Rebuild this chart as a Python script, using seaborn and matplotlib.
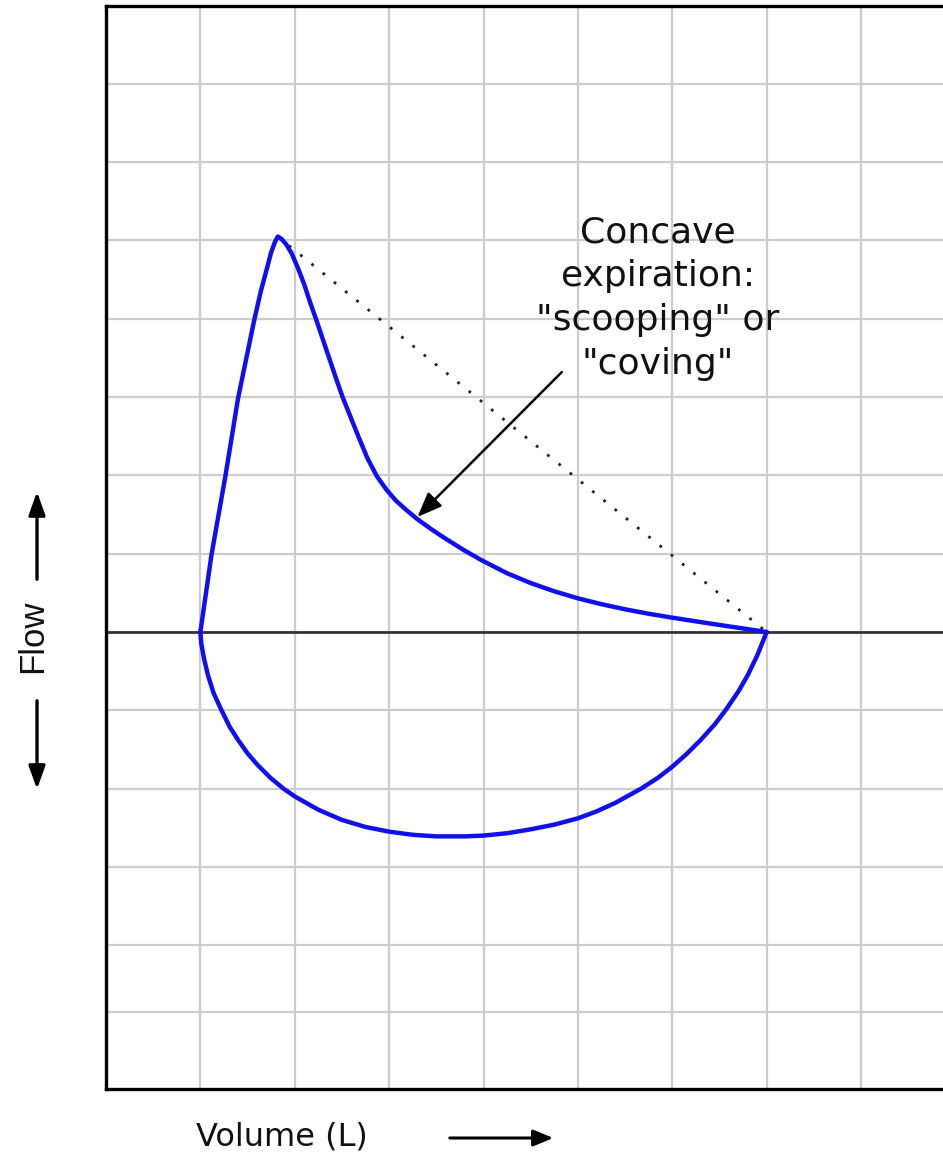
import matplotlib
matplotlib.use('Agg')
import matplotlib.pyplot as plt
import pandas as pd
import seaborn as sns

# Flow-volume loop (concave expiration)
exp_volume = [0.0, 0.117, 0.265, 0.40, 0.57, 0.64, 0.70, 0.75, 0.79, 0.82,
              0.86, 0.91, 0.965, 1.03, 1.1, 1.16, 1.23, 1.30, 1.37, 1.44, 1.51,
              1.60, 1.68, 1.77, 1.87, 1.97, 2.07, 2.18, 2.30, 2.45, 2.6, 2.8,
              2.99, 3.25, 3.5, 3.75, 4.0, 4.25, 4.5, 4.75, 4.99, 5.25, 5.5,
              5.75, 6.0]
exp_flow = [0.0, 0.98, 1.99, 2.99, 3.98, 4.35, 4.62, 4.85, 4.98, 5.05,
            5.02, 4.95, 4.84, 4.66, 4.44, 4.22, 3.98, 3.73, 3.48, 3.23, 2.99,
            2.72, 2.48, 2.22, 1.99, 1.82, 1.68, 1.56, 1.44, 1.31, 1.19, 1.04,
            0.91, 0.75, 0.625, 0.52, 0.43, 0.355, 0.29, 0.233, 0.185, 0.136,
            0.09, 0.045, 0.0]

insp_volume = [0.0, 0.01, 0.04, 0.08, 0.14, 0.22, 0.31, 0.4, 0.5, 0.6, 0.74,
               0.88, 1.0, 1.25, 1.5, 1.75, 2.0, 2.25, 2.5, 2.8, 3.0, 3.25, 3.5,
               3.75, 4.0, 4.2, 4.4, 4.67, 4.85, 5.0, 5.15, 5.3, 5.45, 5.57, 5.7,
               5.8, 5.9, 6.0]
insp_flow = [0.0, -0.15, -0.35, -0.55, -0.78, -0.99, -1.21, -1.38, -1.55, -1.69,
             -1.86, -2.0, -2.1, -2.27, -2.40, -2.49, -2.55, -2.59, -2.61, -2.61,
             -2.6, -2.57, -2.52, -2.46, -2.38, -2.29, -2.18, -2.0, -1.86, -1.72,
             -1.56, -1.38, -1.18, -0.99, -0.76, -0.55, -0.3, 0.0]

# straight reference line from peak flow to residual volume
ref_volume = [0.82, 6.0]
ref_flow = [5.05, 0.0]

x_grid = [0, 1, 2, 3, 4, 5, 6, 7, 8]
y_grid = [-4.85, -4, -3, -2, -1, 0, 1, 2, 3, 4, 5, 6, 7]

annot_text = 'Concave\nexpiration:\n"scooping" or\n"coving"'

W, H = 943, 1157


def fx(px):
    return px / W


def fy(py):
    return (H - py) / H


sns.set_style('white')
fig = plt.figure(figsize=(9.43, 11.57), dpi=100)
ax = fig.add_axes([fx(106), fy(1089), fx(943) - fx(106), fy(6) - fy(1089)])

exp_df = pd.DataFrame({'volume': exp_volume, 'flow': exp_flow})
insp_df = pd.DataFrame({'volume': insp_volume, 'flow': insp_flow})

ax.set_xticks(x_grid)
ax.set_yticks(y_grid)
ax.grid(True, color='#cccccc', lw=1.6)
ax.tick_params(length=0, labelbottom=False, labelleft=False)
ax.axhline(0, color='#333333', lw=2.0, zorder=2)

sns.lineplot(data=exp_df, x='volume', y='flow', sort=False, color='#1010ee',
             lw=3.2, ax=ax, zorder=4)
sns.lineplot(data=insp_df, x='volume', y='flow', sort=False, color='#1010ee',
             lw=3.2, ax=ax, zorder=4)
ax.plot(ref_volume, ref_flow, color='#222222', lw=2.0, ls=(0, (1, 4.2)), zorder=3)

ax.set_xlim(-1, (943 - 201) / 94.3)
ax.set_ylim((632 - 1089) / 78.3, (632 - 6) / 78.3)
ax.set_xlabel('')
ax.set_ylabel('')

for side in ['left', 'top', 'bottom']:
    ax.spines[side].set_color('black')
    ax.spines[side].set_linewidth(2.4)
ax.spines['right'].set_visible(False)

ax.text(4.85, 4.26, annot_text, ha='center', va='center', fontsize=26,
        linespacing=1.37, color='#111111', family='DejaVu Sans', zorder=5)
ax.annotate('', xy=(2.30, 1.47), xytext=(3.83, 3.32),
            arrowprops=dict(arrowstyle='-|>,head_length=1.5,head_width=0.6',
                            color='black', lw=1.8, shrinkA=0, shrinkB=0))

# axis labels with arrows
fig.text(fx(196), fy(1137), 'Volume (L)', ha='left', va='center', fontsize=23,
         color='#111111')
fig.add_artist(matplotlib.patches.FancyArrowPatch(
    (fx(447), fy(1138)), (fx(556), fy(1138)), transform=fig.transFigure,
    arrowstyle='-|>,head_length=12,head_width=5', color='black', lw=2.2))

fig.text(fx(33), fy(636), 'Flow', ha='center', va='center', rotation=90,
         fontsize=25, color='#111111', family='Liberation Sans')
fig.add_artist(matplotlib.patches.FancyArrowPatch(
    (fx(37), fy(582)), (fx(37), fy(489)), transform=fig.transFigure,
    arrowstyle='-|>,head_length=14,head_width=5', color='black', lw=2.4))
fig.add_artist(matplotlib.patches.FancyArrowPatch(
    (fx(37), fy(698)), (fx(37), fy(792)), transform=fig.transFigure,
    arrowstyle='-|>,head_length=14,head_width=5', color='black', lw=2.4))

fig.savefig('out.png', dpi=100)
